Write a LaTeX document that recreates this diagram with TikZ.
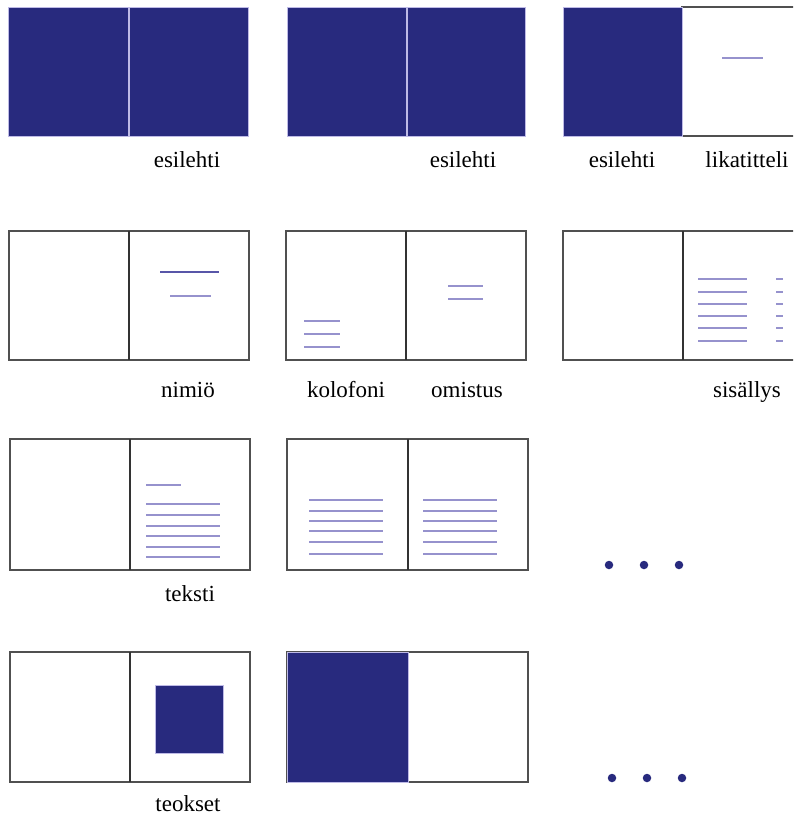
\documentclass[tikz,border=0pt]{standalone}
\usepackage{fontspec}
\setmainfont{Liberation Serif}
\definecolor{navy}{RGB}{40,42,126}
\definecolor{frame}{RGB}{80,80,80}
\definecolor{lav}{RGB}{150,146,205}
\definecolor{lavdark}{RGB}{88,86,168}
\definecolor{lavlight}{RGB}{190,186,230}
\begin{document}
\begin{tikzpicture}[x=1pt,y=-1pt,
  white page/.style={draw=frame,line width=1.4pt,fill=white},
  navy page/.style={fill=navy,draw=lavlight,line width=0.8pt},
  spine/.style={draw=black!80,line width=1.3pt},
  tline/.style={draw=lav,line width=1.3pt},
  dot/.style={circle,fill=navy,inner sep=0pt,minimum size=8.5pt},
  lbl/.style={anchor=base,font=\fontsize{23}{27}\selectfont,text=black,inner sep=0pt}]
\clip (0,0) rectangle (793,818);
\fill[white] (0,0) rectangle (793,818);
% ---------- Row 1 ----------
\draw[navy page] (8,7) rectangle (128,136);
\draw[navy page] (129,7) rectangle (248,136);
\draw[navy page] (287,7) rectangle (406,136);
\draw[navy page] (407,7) rectangle (525,136);
\draw[white page] (682,7) rectangle (805,136);
\draw[navy page] (563,7) rectangle (682,136);
\draw[tline] (722,58) -- (763,58);
\node[lbl] (l1) at (187,168) {esilehti};
\node[lbl] (l2) at (463,168) {esilehti};
\node[lbl] (l3) at (622,168) {esilehti};
\node[lbl] (l4) at (747,168) {likatitteli};
% ---------- Row 2 ----------
\draw[white page] (9,231) rectangle (249,360);
\draw[spine] (129,231) -- (129,360);
\draw[draw=lavdark,line width=1.8pt] (160,272) -- (219,272);
\draw[tline] (170,296) -- (211,296);
\node[lbl] (l5) at (188,397) {nimiö};
\draw[white page] (286,231) rectangle (526,360);
\draw[spine] (406,231) -- (406,360);
\foreach \y in {321,334,347} \draw[tline] (304,\y) -- (340,\y);
\foreach \y in {286,299} \draw[tline] (448,\y) -- (483,\y);
\node[lbl] (l6) at (346,397) {kolofoni};
\node[lbl] (l7) at (467,397) {omistus};
\draw[white page] (563,231) rectangle (805,360);
\draw[spine] (683,231) -- (683,360);
\foreach \y in {279,292,304,316,328,341} {
  \draw[tline] (698,\y) -- (747,\y);
  \draw[tline] (776,\y) -- (783,\y);
}
\node[lbl] (l8) at (747,397) {sisällys};
% ---------- Row 3 ----------
\draw[white page] (10,439) rectangle (250,570);
\draw[spine] (130,439) -- (130,570);
\draw[tline] (146,485) -- (181,485);
\foreach \y in {504,515,526,536,547,557} \draw[tline] (146,\y) -- (220,\y);
\node[lbl] (l9) at (190,601) {teksti};
\draw[white page] (287,439) rectangle (528,570);
\draw[spine] (408,439) -- (408,570);
\foreach \y in {500,511,521,531,542,554} {
  \draw[tline] (309,\y) -- (383,\y);
  \draw[tline] (423,\y) -- (497,\y);
}
\node[dot] (d1) at (609,565) {};
\node[dot] (d2) at (644,565) {};
\node[dot] (d3) at (679,565) {};
% ---------- Row 4 ----------
\draw[white page] (10,652) rectangle (250,782);
\draw[spine] (130,652) -- (130,782);
\draw[fill=navy,draw=lavlight,line width=0.6pt] (155,685) rectangle (223,753);
\node[lbl] (l10) at (188,811) {teokset};
\draw[white page] (287,652) rectangle (528,782);
\draw[navy page] (287,652) rectangle (408,782);
\node[dot] (d4) at (612,778) {};
\node[dot] (d5) at (647,778) {};
\node[dot] (d6) at (682,778) {};
\end{tikzpicture}
\end{document}
